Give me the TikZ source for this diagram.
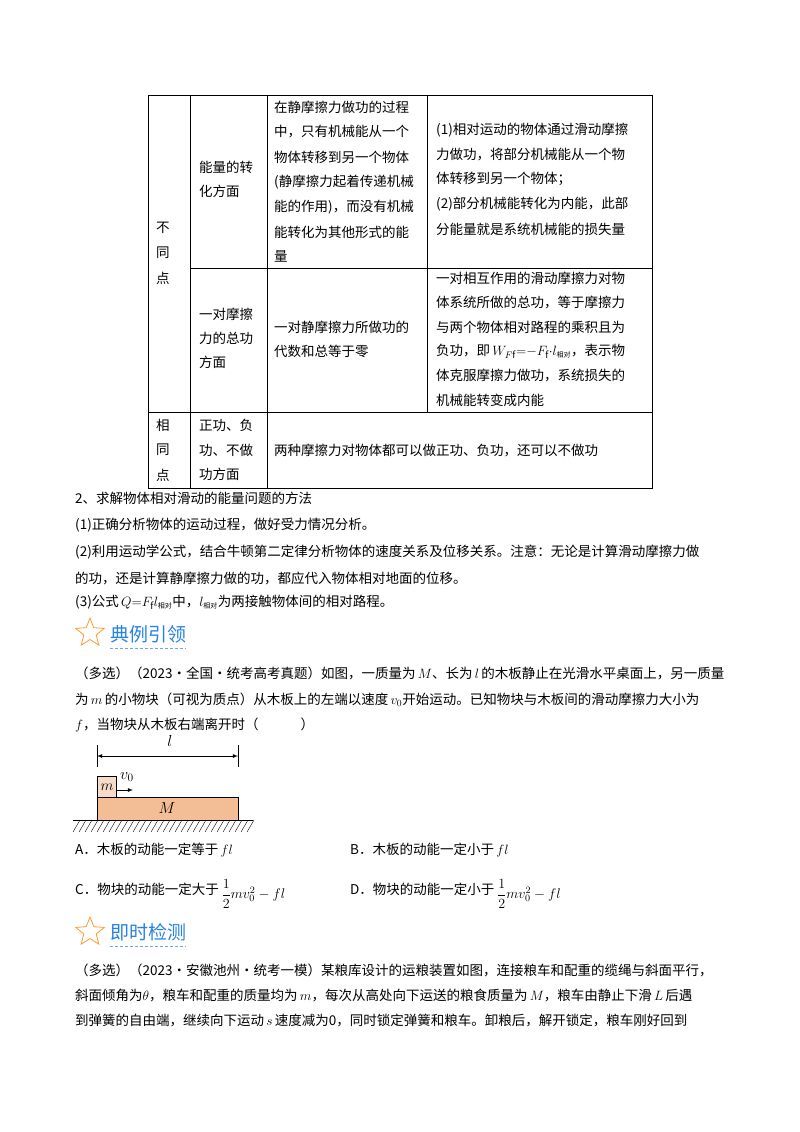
\documentclass[tikz,border=0pt]{standalone}
\usepackage{fix-cm}
\usepackage{amsmath}
\usepackage{fontspec}
\setmainfont{Noto Sans CJK SC}
\usetikzlibrary{shapes.geometric}
\XeTeXlinebreaklocale "zh"
\XeTeXlinebreakskip=0pt plus 1fil
\newcommand\jl[2]{\makebox[#1][s]{#2}}
\newcommand\xd{\mbox{\fontsize{7}{7}\selectfont 相对}}
\definecolor{ttl}{RGB}{40,130,230}
\definecolor{bd}{RGB}{243,190,150}
\definecolor{bm}{RGB}{246,220,200}
\tikzset{t/.style={anchor=west,inner sep=0pt,font=\fontsize{13.5}{16}\selectfont},
 grid/.style={line width=0.8pt},
 hd/.style={anchor=west,inner sep=0pt,text=ttl,font=\fontsize{19}{22}\selectfont},
 st/.style={star,star points=5,star point ratio=2.3,draw=orange!80,line width=0.8pt,minimum size=30pt,inner sep=0pt}}
\begin{document}
\begin{tikzpicture}[x=1pt,y=-1pt]
\useasboundingbox[fill=white] (0,0) rectangle (800,1132);
% table grid
\draw[grid] (148,95) rectangle (652,488);
\draw[grid] (190,95) -- (190,488);
\draw[grid] (267,95) -- (267,488);
\draw[grid] (427,95) -- (427,412);
\draw[grid] (190,268) -- (652,268);
\draw[grid] (148,412) -- (652,412);
% col1
\node[t] (c1a) at (156,228) {不};
\node[t] (c1b) at (156,253) {同};
\node[t] (c1c) at (156,278) {点};
\node[t] (c1d) at (156,425) {相};
\node[t] (c1e) at (156,450) {同};
\node[t] (c1f) at (156,475) {点};
% col2
\node[t] (c2a) at (199,167) {\jl{58pt}{能量的转}};
\node[t] (c2b) at (199,191) {化方面};
\node[t] (c2c) at (199,314) {\jl{58pt}{一对摩擦}};
\node[t] (c2d) at (199,338) {\jl{58pt}{力的总功}};
\node[t] (c2e) at (199,362) {方面};
\node[t] (c2f) at (199,425) {\jl{58pt}{正功、负}};
\node[t] (c2g) at (199,450) {\jl{58pt}{功、不做}};
\node[t] (c2h) at (199,474) {功方面};
% col3
\node[t] (c3a) at (274,107) {\jl{148pt}{在静摩擦力做功的过程}};
\node[t] (c3b) at (274,132) {\jl{148pt}{中，只有机械能从一个}};
\node[t] (c3c) at (274,157) {\jl{148pt}{物体转移到另一个物体}};
\node[t] (c3d) at (274,182) {\jl{148pt}{(静摩擦力起着传递机械}};
\node[t] (c3e) at (274,207) {\jl{148pt}{能的作用)，而没有机械}};
\node[t] (c3f) at (274,232) {\jl{148pt}{能转化为其他形式的能}};
\node[t] (c3g) at (274,256) {量};
\node[t] (c3h) at (274,327) {\jl{148pt}{一对静摩擦力所做功的}};
\node[t] (c3i) at (274,351) {代数和总等于零};
% col4
\node[t] (c4a) at (436,130) {\jl{208pt}{(1)相对运动的物体通过滑动摩擦}};
\node[t] (c4b) at (436,155) {\jl{208pt}{力做功，将部分机械能从一个物}};
\node[t] (c4c) at (436,179) {体转移到另一个物体；};
\node[t] (c4d) at (436,204) {\jl{208pt}{(2)部分机械能转化为内能，此部}};
\node[t] (c4e) at (436,229) {分能量就是系统机械能的损失量};
\node[t] (c4f) at (436,278) {\jl{208pt}{一对相互作用的滑动摩擦力对物}};
\node[t] (c4g) at (436,302) {\jl{208pt}{体系统所做的总功，等于摩擦力}};
\node[t] (c4h) at (436,327) {\jl{208pt}{与两个物体相对路程的乘积且为}};
\node[t] (c4i) at (436,351) {\jl{208pt}{负功，即\,$W_{F\mathrm{f}}{=}{-}F_{\mathrm f}{\cdot}l_{\xd}$，表示物}};
\node[t] (c4j) at (436,375) {\jl{208pt}{体克服摩擦力做功，系统损失的}};
\node[t] (c4k) at (436,400) {机械能转变成内能};
\node[t] (c34) at (274,450) {两种摩擦力对物体都可以做正功、负功，还可以不做功};
% section 2
\node[t] (s0) at (75,498) {2、求解物体相对滑动的能量问题的方法};
\node[t] (s1) at (75,525) {(1)正确分析物体的运动过程，做好受力情况分析。};
\node[t] (s2) at (75,552) {\jl{655pt}{(2)利用运动学公式，结合牛顿第二定律分析物体的速度关系及位移关系。注意：无论是计算滑动摩擦力做}};
\node[t] (s3) at (75,578) {的功，还是计算静摩擦力做的功，都应代入物体相对地面的位移。};
\node[t] (s4) at (75,602) {(3)公式\,$Q{=}F_{\mathrm f}l_{\xd}$中，$l_{\xd}$为两接触物体间的相对路程。};
% header 1
\node[st] (star1) at (90,633) {};
\node[hd] (h1) at (110,634) {典例引领};
\draw[ttl!70,line width=1pt,dash pattern=on 3pt off 2pt] (h1.south west)+(0,5) -- ([yshift=-5pt]h1.south east);
\node[t] (q1) at (75,673) {\jl{655pt}{（多选）（2023·全国·统考高考真题）如图，一质量为\,$M$、长为\,$l$\,的木板静止在光滑水平桌面上，另一质量}};
\node[t] (q2) at (75,700) {\jl{655pt}{为\,$m$\,的小物块（可视为质点）从木板上的左端以速度\,$v_0$开始运动。已知物块与木板间的滑动摩擦力大小为}};
\node[t] (q3) at (75,725) {$f$，当物块从木板右端离开时（\hspace{42pt}）};
% figure
\coordinate (tl) at (97,745); \coordinate (tl2) at (97,767);
\coordinate (tr) at (238,745); \coordinate (tr2) at (238,767);
\draw[line width=0.8pt] (tl) -- (tl2) (tr) -- (tr2);
\coordinate (dl) at (97,756); \coordinate (dr) at (238,756);
\draw[line width=0.8pt,-latex] (167,756) -- (dl);
\draw[line width=0.8pt,-latex] (167,756) -- (dr);
\node[font=\fontsize{16}{16}\selectfont] (ll) at (170,741) {$l$};
\draw[fill=bd,line width=0.8pt] (97,797) rectangle (238,820);
\node[font=\fontsize{16}{16}\selectfont] (Mb) at (167,808) {$M$};
\draw[fill=bm,line width=0.8pt] (97,776) rectangle (116,797);
\node[font=\fontsize{15}{15}\selectfont] (mb) at (107,787) {$m$};
\coordinate (va) at (116,790); \coordinate (vb) at (133,790);
\draw[line width=0.8pt,-latex] (va) -- (vb);
\node[font=\fontsize{16}{16}\selectfont] (v0) at (127,777) {$v_0$};
\draw[line width=0.8pt] (73,820) -- (253,820);
\foreach \x in {73,79,...,247} \draw[line width=0.4pt] (\x,832) -- (\x+7,820);
% options
\node[t] (oA) at (75,850) {A．木板的动能一定等于\,$fl$};
\node[t] (oB) at (350,850) {B．木板的动能一定小于\,$fl$};
\node[t] (oC) at (75,889) {C．物块的动能一定大于};
\node[anchor=west,inner sep=0pt,font=\fontsize{14}{16}\selectfont] (fC) at ([yshift=-5pt]oC.east) {\,$\dfrac{1}{2}mv_0^2-fl$};
\node[t] (oD) at (350,889) {D．物块的动能一定小于};
\node[anchor=west,inner sep=0pt,font=\fontsize{14}{16}\selectfont] (fD) at ([yshift=-5pt]oD.east) {\,$\dfrac{1}{2}mv_0^2-fl$};
% header 2
\node[st] (star2) at (90,932) {};
\node[hd] (h2) at (110,932) {即时检测};
\draw[ttl!70,line width=1pt,dash pattern=on 3pt off 2pt] (h2.south west)+(0,5) -- ([yshift=-5pt]h2.south east);
\node[t] (p1) at (75,970) {\jl{655pt}{（多选）（2023·安徽池州·统考一模）某粮库设计的运粮装置如图，连接粮车和配重的缆绳与斜面平行，}};
\node[t] (p2) at (75,995) {\jl{655pt}{斜面倾角为$\theta$，粮车和配重的质量均为\,$m$，每次从高处向下运送的粮食质量为\,$M$，粮车由静止下滑\,$L$\,后遇}};
\node[t] (p3) at (75,1020) {\jl{655pt}{到弹簧的自由端，继续向下运动\,$s$\,速度减为0，同时锁定弹簧和粮车。卸粮后，解开锁定，粮车刚好回到}};
\end{tikzpicture}
\end{document}
